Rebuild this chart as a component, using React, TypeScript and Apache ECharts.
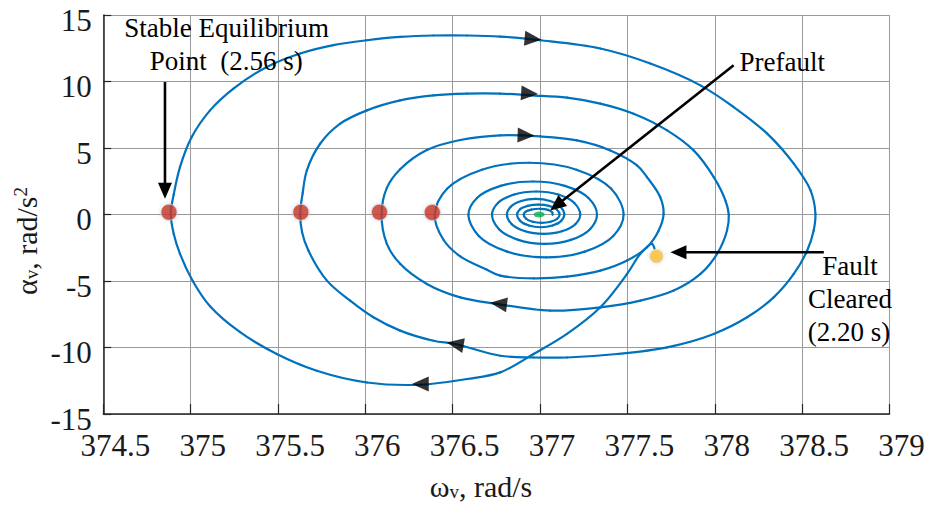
import React, { useEffect, useRef } from "react";
import * as echarts from "echarts";

// ---- data ----
const xMin = 374.5;
const xMax = 379;
const xStep = 0.5;
const yMin = -15;
const yMax = 15;
const yStep = 5;
const xTickValues: number[] = [374.5, 375, 375.5, 376, 376.5, 377, 377.5, 378, 378.5, 379];
const xTickLabels: string[] = ["374.5", "375", "375.5", "376", "376.5", "377", "377.5", "378", "378.5", "379"];
const yTickValues: number[] = [-15, -10, -5, 0, 5, 10, 15];
const yTickLabels: string[] = ["-15", "-10", "-5", "0", "5", "10", "15"];

// phase-plane trajectory [omega_v (rad/s), alpha_v (rad/s^2)] starting at fault clearing
const trajectory: number[][] = [
  // fault cleared -> first (outer) swing
  [377.655, -2.55], [377.641, -2.21], [377.574, -2.96], [377.498, -4.47], [377.345, -6.98],
  [377.154, -8.98], [376.963, -10.49], [376.772, -11.87], [376.581, -12.37], [376.314, -12.8],
  [376.009, -12.63], [375.722, -11.75], [375.493, -10.49], [375.283, -8.85], [375.111, -6.9],
  [375.012, -5.0], [374.939, -2.96], [374.903, -1.45], [374.886, 0.05], [374.903, 1.5],
  [374.939, 3.56], [375.006, 5.82], [375.111, 7.83], [375.245, 9.47], [375.436, 11.09],
  [375.627, 12.1], [375.817, 12.73], [376.009, 13.1], [376.199, 13.35], [376.39, 13.46],
  [376.581, 13.46], [376.772, 13.38], [377.001, 13.1], [377.345, 12.48], [377.631, 11.35],
  [377.918, 9.71], [378.108, 8.08], [378.3, 6.08], [378.452, 3.82], [378.548, 1.81],
  [378.576, 0.05], [378.566, -1.2], [378.529, -2.71], [378.452, -4.47], [378.337, -6.23],
  [378.185, -7.73], [377.994, -8.98], [377.727, -9.99], [377.44, -10.49], [377.154, -10.75],
  [376.963, -10.75], [376.772, -10.62], [376.514, -9.74], [376.39, -9.49], [376.199, -8.73],
  [376.046, -7.73], [375.913, -6.48], [375.78, -4.97], [375.674, -2.71], [375.638, -1.35],
  [375.627, 0.05], [375.641, 1.6], [375.665, 3.31], [375.741, 5.32], [375.856, 6.83],
  [376.009, 7.83], [376.199, 8.58], [376.39, 8.96], [376.581, 9.09], [376.772, 9.09],
  [376.944, 8.96], [377.154, 8.79], [377.345, 8.34], [377.535, 7.58], [377.727, 6.33],
  [377.879, 4.82], [377.994, 2.81], [378.061, 1.05], [378.08, 0], [378.07, -1.2],
  [378.013, -2.96], [377.918, -4.47], [377.765, -5.72], [377.574, -6.48], [377.345, -6.98],
  [377.058, -7.23], [376.753, -6.72], [376.543, -6.23], [376.352, -5.22], [376.199, -3.71],
  [376.123, -2.21], [376.093, 0.05], [376.123, 2.0], [376.199, 3.4], [376.352, 4.85],
  [376.543, 5.6], [376.772, 5.95], [377.001, 5.87], [377.211, 5.57], [377.402, 4.82],
  [377.555, 3.69], [377.612, 2.81], [377.688, 1.3], [377.707, 0.05], [377.679, -1.2],
  [377.612, -2.46], [377.498, -3.46], [377.345, -4.22], [377.154, -4.67], [376.963, -4.8],
  [376.772, -4.6], [376.696, -4.15], [376.543, -3.15], [376.447, -1.9], [376.397, 0],
  // inner, decaying swings
  [376.469, 1.95], [376.667, 3.37], [376.938, 3.89], [377.208, 3.37], [377.406, 1.95],
  [377.478, 0], [377.419, -1.61], [377.256, -2.79], [377.034, -3.22], [376.812, -2.79],
  [376.649, -1.61], [376.59, 0], [376.639, 1.24], [376.774, 2.15], [376.958, 2.48],
  [377.142, 2.15], [377.277, 1.24], [377.326, 0], [377.286, -1.1], [377.176, -1.91],
  [377.026, -2.21], [376.875, -1.91], [376.765, -1.1], [376.725, 0], [376.759, 0.87],
  [376.851, 1.5], [376.978, 1.73], [377.104, 1.5], [377.196, 0.87], [377.23, 0],
  [377.202, -0.73], [377.125, -1.26], [377.02, -1.45], [376.915, -1.26], [376.838, -0.73],
  [376.81, 0], [376.832, 0.59], [376.892, 1.02], [376.975, 1.18], [377.057, 1.02],
  [377.117, 0.59], [377.139, 0], [377.121, -0.48], [377.071, -0.83], [377.004, -0.96],
  [376.936, -0.83], [376.886, -0.48], [376.868, 0], [376.884, 0.38], [376.929, 0.65],
  [376.99, 0.75], [377.051, 0.65], [377.096, 0.38], [377.112, 0], [377.098, -0.32],
  [377.06, -0.55], [377.009, -0.63], [376.958, -0.55], [376.92, -0.32], [376.906, 0],
  [376.918, 0.22], [376.95, 0.37], [377.0, 0.43], [377.045, 0.35], [377.07, 0.15],
  [377.072, -0.02],
];

// left-most crossings marked with red dots
const equilibriumPoints: number[][] = [
  [374.876, 0.17], [375.631, 0.17], [376.081, 0.17], [376.383, 0.15],
];
const faultClearedPoint: number[][] = [[377.666, -3.14]];
const prefaultPoint: number[][] = [[376.995, 0]];

// direction arrows along the trajectory and their headings (deg, ccw from up)
const directionPoints: number[][] = [
  [376.96, 13.2], [376.94, 9.1], [376.92, 5.95],
  [376.314, -12.75], [376.514, -9.74], [376.762, -6.72],
];
const directionAngles: number[] = [-95, -94, -92, 90, 80, 83];

// annotation arrows: [tail, tip] in data units
const annotationArrows: number[][][] = [
  [[374.853, 9.96], [374.853, 1.18]],
  [[378.108, 11.22], [377.058, 0.3]],
  [[378.624, -2.84], [377.746, -2.84]],
];

const annotationTexts = [
  { text: "Stable Equilibrium", x: 226.7, y: 27.5, align: "center" },
  { text: "Point\u00a0 (2.56 s)", x: 226.3, y: 61, align: "center" },
  { text: "Prefault", x: 739.5, y: 61.5, align: "left" },
  { text: "Fault", x: 850, y: 266, align: "center" },
  { text: "Cleared", x: 850, y: 299, align: "center" },
  { text: "(2.20 s)", x: 849, y: 332, align: "center" },
];

const FONT = "Liberation Serif";
const BLUE = "#0072BD";
const INK = "#1a1a1a";

// centripetal Catmull-Rom control points for the segment p1 -> p2
function crControls(p0: number[], p1: number[], p2: number[], p3: number[]) {
  const dist = (a: number[], b: number[]) => Math.hypot(b[0] - a[0], b[1] - a[1]);
  let d1 = Math.sqrt(dist(p0, p1));
  let d2 = Math.sqrt(dist(p1, p2));
  let d3 = Math.sqrt(dist(p2, p3));
  const eps = 1e-6;
  if (d2 < eps) d2 = eps;
  let c1: number[];
  let c2: number[];
  if (d1 < eps) {
    c1 = [p1[0] + (p2[0] - p1[0]) / 3, p1[1] + (p2[1] - p1[1]) / 3];
  } else {
    const a = d1 * d1, b = d2 * d2, m = 2 * a + 3 * d1 * d2 + b, den = 3 * d1 * (d1 + d2);
    c1 = [
      (a * p2[0] - b * p0[0] + m * p1[0]) / den,
      (a * p2[1] - b * p0[1] + m * p1[1]) / den,
    ];
  }
  if (d3 < eps) {
    c2 = [p2[0] - (p2[0] - p1[0]) / 3, p2[1] - (p2[1] - p1[1]) / 3];
  } else {
    const a = d3 * d3, b = d2 * d2, m = 2 * a + 3 * d3 * d2 + b, den = 3 * d3 * (d3 + d2);
    c2 = [
      (a * p1[0] - b * p3[0] + m * p2[0]) / den,
      (a * p1[1] - b * p3[1] + m * p2[1]) / den,
    ];
  }
  return [c1, c2];
}

export default function App() {
  const ref = useRef<HTMLDivElement>(null);

  useEffect(() => {
    if (!ref.current) return;
    const chart = echarts.init(ref.current, null, { renderer: "svg" });

    const dotStyle = (color: string) => ({
      color,
      borderColor: "#d4d4d4",
      borderWidth: 1,
      shadowBlur: 4,
      shadowColor: "rgba(80,120,190,0.3)",
    });

    const n = trajectory.length;

    const option: any = {
      animation: false,
      backgroundColor: "#ffffff",
      textStyle: { fontFamily: FONT },
      grid: {
        left: 103.3,
        top: 15,
        width: 786.2,
        height: 399,
        containLabel: false,
        outerBoundsMode: "none",
      },
      xAxis: {
        type: "value",
        min: xMin,
        max: xMax,
        interval: xStep,
        axisLine: { show: true, onZero: false, lineStyle: { color: "#262626", width: 1.5 } },
        axisTick: { show: true, inside: true, length: 10, lineStyle: { color: "#262626", width: 1.2 } },
        axisLabel: { show: false },
        splitLine: { show: true, lineStyle: { color: "#9a9a9a", width: 1 } },
      },
      yAxis: {
        type: "value",
        min: yMin,
        max: yMax,
        interval: yStep,
        axisLine: { show: true, onZero: false, lineStyle: { color: "#262626", width: 1.5 } },
        axisTick: { show: true, inside: true, length: 8, lineStyle: { color: "#262626", width: 1.2 } },
        axisLabel: { show: false },
        splitLine: { show: true, lineStyle: { color: "#9a9a9a", width: 1 } },
      },
      series: [
        {
          type: "custom",
          data: trajectory,
          encode: { x: 0, y: 1 },
          clip: true,
          z: 3,
          renderItem: (params: any, api: any) => {
            const i = params.dataIndex;
            if (i >= n - 1) return { type: "group", children: [] };
            const p1 = api.coord(trajectory[i]);
            const p2 = api.coord(trajectory[i + 1]);
            const p0 = i > 0 ? api.coord(trajectory[i - 1]) : [2 * p1[0] - p2[0], 2 * p1[1] - p2[1]];
            const p3 = i + 2 < n ? api.coord(trajectory[i + 2]) : [2 * p2[0] - p1[0], 2 * p2[1] - p1[1]];
            const [c1, c2] = crControls(p0, p1, p2, p3);
            return {
              type: "bezierCurve",
              shape: {
                x1: p1[0],
                y1: p1[1],
                x2: p2[0],
                y2: p2[1],
                cpx1: c1[0],
                cpy1: c1[1],
                cpx2: c2[0],
                cpy2: c2[1],
              },
              style: { stroke: BLUE, lineWidth: 2.2, fill: null, lineCap: "round" },
            };
          },
        },
        {
          type: "scatter",
          data: directionPoints.map((p, i) => ({ value: p, symbolRotate: directionAngles[i] })),
          symbol: "triangle",
          symbolSize: [15, 17],
          itemStyle: { color: "#000" },
          z: 5,
        },
        {
          type: "scatter",
          data: equilibriumPoints,
          symbol: "circle",
          symbolSize: 16,
          itemStyle: dotStyle("#C83200"),
          z: 6,
        },
        {
          type: "scatter",
          data: faultClearedPoint,
          symbol: "circle",
          symbolSize: 13,
          itemStyle: dotStyle("#FFC000"),
          z: 6,
        },
        {
          type: "scatter",
          data: prefaultPoint,
          symbol: "circle",
          symbolSize: [11, 6],
          itemStyle: { color: "#00B050" },
          z: 6,
        },
      ],
    };

    chart.setOption(option);

    const toPx = (p: number[]) => chart.convertToPixel({ gridIndex: 0 }, p) as number[];
    const graphics: any[] = [];

    // tick labels (serif), placed through the axis scales
    xTickValues.forEach((v, i) => {
      const p = toPx([v, yMin]);
      graphics.push({
        type: "text",
        x: p[0] + 12,
        y: p[1] + 31.5,
        style: {
          text: xTickLabels[i],
          font: `31px "${FONT}"`,
          fill: INK,
          align: "center",
          verticalAlign: "middle",
          textAlign: "center",
          textVerticalAlign: "middle",
        },
        z: 21,
      });
    });
    yTickValues.forEach((v, i) => {
      const p = toPx([xMin, v]);
      graphics.push({
        type: "text",
        x: p[0] - 11.5,
        y: p[1] + 5,
        style: {
          text: yTickLabels[i],
          font: `31px "${FONT}"`,
          fill: INK,
          align: "right",
          verticalAlign: "middle",
          textAlign: "right",
          textVerticalAlign: "middle",
        },
        z: 21,
      });
    });

    annotationArrows.forEach(([from, to]) => {
      const p0 = toPx(from);
      const p1 = toPx(to);
      const dx = p1[0] - p0[0];
      const dy = p1[1] - p0[1];
      const len = Math.sqrt(dx * dx + dy * dy) || 1;
      const ux = dx / len;
      const uy = dy / len;
      const headLen = 16;
      const headHalf = 7;
      const bx = p1[0] - ux * headLen;
      const by = p1[1] - uy * headLen;
      graphics.push({
        type: "line",
        shape: { x1: p0[0], y1: p0[1], x2: bx + ux * 2, y2: by + uy * 2 },
        style: { stroke: "#000", lineWidth: 2.6 },
        z: 20,
      });
      graphics.push({
        type: "polygon",
        shape: {
          points: [
            [p1[0], p1[1]],
            [bx - uy * headHalf, by + ux * headHalf],
            [bx + uy * headHalf, by - ux * headHalf],
          ],
        },
        style: { fill: "#000" },
        z: 20,
      });
    });

    annotationTexts.forEach((t) => {
      graphics.push({
        type: "text",
        x: t.x,
        y: t.y,
        style: {
          text: t.text,
          font: `27px "${FONT}"`,
          fill: "#000",
          align: t.align,
          verticalAlign: "middle",
          textAlign: t.align,
          textVerticalAlign: "middle",
        },
        z: 21,
      });
    });

    const titleRich = {
      a: { fontFamily: FONT, fontSize: 30, lineHeight: 30, fill: INK, color: INK },
      s: { fontFamily: FONT, fontSize: 19, lineHeight: 14, verticalAlign: "bottom", fill: INK, color: INK },
      p: { fontFamily: FONT, fontSize: 19, lineHeight: 14, verticalAlign: "top", fill: INK, color: INK },
    };

    graphics.push({
      type: "text",
      x: 481,
      y: 486,
      style: {
        text: "{a|ω}{s|v}{a|, rad/s}",
        rich: titleRich,
        fill: INK,
        align: "center",
        verticalAlign: "middle",
        textAlign: "center",
        textVerticalAlign: "middle",
      },
      z: 21,
    });
    graphics.push({
      type: "text",
      x: 26,
      y: 241,
      rotation: Math.PI / 2,
      style: {
        text: "{a|α}{s|v}{a|, rad/s}{p|2}",
        rich: titleRich,
        fill: INK,
        align: "center",
        verticalAlign: "middle",
        textAlign: "center",
        textVerticalAlign: "middle",
      },
      z: 21,
    });

    chart.setOption({ graphic: graphics });

    return () => {
      chart.dispose();
    };
  }, []);

  return (
    <div
      ref={ref}
      style={{ position: "fixed", left: 0, top: 0, width: 930, height: 506, background: "#fff" }}
    />
  );
}
